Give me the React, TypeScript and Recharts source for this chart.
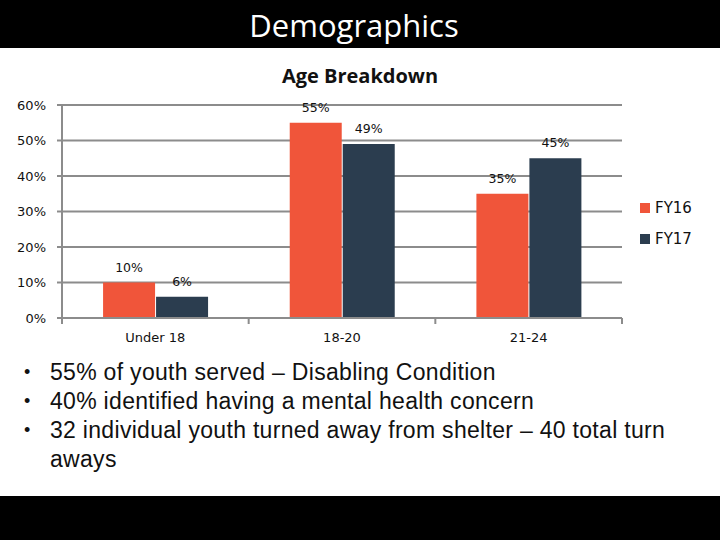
import React from "react";
import { Bar, BarChart, CartesianGrid, LabelList, XAxis, YAxis } from "recharts";

const categories = ["Under 18", "18-20", "21-24"];
const fy16 = [0.1, 0.55, 0.35];
const fy17 = [0.06, 0.49, 0.45];
const yTicks = [0, 0.1, 0.2, 0.3, 0.4, 0.5, 0.6];
const seriesNames = ["FY16", "FY17"];
const bullets = [
  "55% of youth served – Disabling Condition",
  "40% identified having a mental health concern",
  "32 individual youth turned away from shelter – 40 total turn aways",
];

const ORANGE = "#F0553A";
const NAVY = "#2B3D4F";
const GRID = "#8C8C8C";
const FONT = "'DejaVu Sans', Verdana, sans-serif";

const data = categories.map((c, i) => ({ name: c, FY16: fy16[i], FY17: fy17[i] }));

const pct = (v: number) => `${Math.round(v * 100)}%`;

// chart box: plot spans x 62..622, y 105..318 on the page
const CHART_W = 720;
const CHART_H = 310;
const PLOT_LEFT = 62;
const PLOT_RIGHT = 622;
const halfBand = (PLOT_RIGHT - PLOT_LEFT) / categories.length / 2;

function CatTick(props: any) {
  const { x, y, payload, index } = props;
  const top = y - 8;
  return (
    <g>
      <line x1={x - halfBand} x2={x - halfBand} y1={top} y2={top + 6} stroke={GRID} strokeWidth={2} />
      {index === categories.length - 1 && (
        <line x1={x + halfBand} x2={x + halfBand} y1={top} y2={top + 6} stroke={GRID} strokeWidth={2} />
      )}
      <text x={x} y={y + 16} textAnchor="middle" fontFamily={FONT} fontSize={13} fill="#111">
        {payload.value}
      </text>
    </g>
  );
}

const colors = [ORANGE, NAVY];

export default function App() {
  return (
    <div style={{ position: "fixed", left: 0, top: 0, width: 720, height: 540, background: "#fff", overflow: "hidden" }}>
      <div style={{ position: "absolute", left: 0, top: 0, width: 720, height: 48, background: "#000" }} />
      <div
        style={{
          position: "absolute", left: 0, top: 4, width: 708, textAlign: "center",
          fontFamily: "'Open Sans', sans-serif", fontSize: 31, color: "#fff", lineHeight: "42px",
        }}
      >
        Demographics
      </div>
      <div
        style={{
          position: "absolute", left: 0, top: 62, width: 720, textAlign: "center",
          fontFamily: "'Open Sans', sans-serif", fontWeight: 700, fontSize: 20, color: "#111", lineHeight: "28px",
        }}
      >
        Age Breakdown
      </div>
      <div style={{ position: "absolute", left: 0, top: 48 }}>
        <BarChart
          width={CHART_W}
          height={CHART_H}
          data={data}
          margin={{ top: 57, right: CHART_W - PLOT_RIGHT, bottom: 10, left: 12 }}
          barCategoryGap="22%"
          barGap={1}
        >
          <CartesianGrid vertical={false} stroke={GRID} strokeWidth={2} />
          <XAxis
            dataKey="name"
            axisLine={{ stroke: GRID, strokeWidth: 2 }}
            tickLine={false}
            tick={<CatTick />}
            height={30}
            interval={0}
          />
          <YAxis
            domain={[0, 0.6]}
            ticks={yTicks}
            tickFormatter={pct}
            width={50}
            axisLine={{ stroke: GRID, strokeWidth: 2 }}
            tickLine={{ stroke: GRID, strokeWidth: 2 }}
            tickSize={5}
            tickMargin={11}
            tick={{ fontFamily: FONT, fontSize: 13, fill: "#111" }}
          />
          <Bar dataKey="FY16" fill={ORANGE} isAnimationActive={false}>
            <LabelList dataKey="FY16" position="top" offset={11} formatter={(v: any) => pct(Number(v))} style={{ fontFamily: FONT, fontSize: 12.5, fill: "#111" }} />
          </Bar>
          <Bar dataKey="FY17" fill={NAVY} isAnimationActive={false}>
            <LabelList dataKey="FY17" position="top" offset={11} formatter={(v: any) => pct(Number(v))} style={{ fontFamily: FONT, fontSize: 12.5, fill: "#111" }} />
          </Bar>
        </BarChart>
      </div>
      <div style={{ position: "absolute", left: 640, top: 192 }}>
        {seriesNames.map((s, i) => (
          <div key={s} style={{ display: "flex", alignItems: "center", height: 31 }}>
            <span style={{ width: 10, height: 10, background: colors[i], marginRight: 5 }} />
            <span style={{ fontFamily: FONT, fontSize: 15, color: "#111" }}>{s}</span>
          </div>
        ))}
      </div>
      <div style={{ position: "absolute", left: 0, top: 358, width: 720 }}>
        {bullets.map((b) => (
          <div key={b} style={{ position: "relative", paddingLeft: 50, width: 635, fontFamily: "'Liberation Sans', Arial, sans-serif", fontSize: 23, letterSpacing: "0.3px", lineHeight: "29px", color: "#111" }}>
            <span style={{ position: "absolute", left: 24, fontSize: 18, letterSpacing: 0 }}>•</span>
            {b}
          </div>
        ))}
      </div>
      <div style={{ position: "absolute", left: 0, top: 496, width: 720, height: 44, background: "#000" }} />
    </div>
  );
}
